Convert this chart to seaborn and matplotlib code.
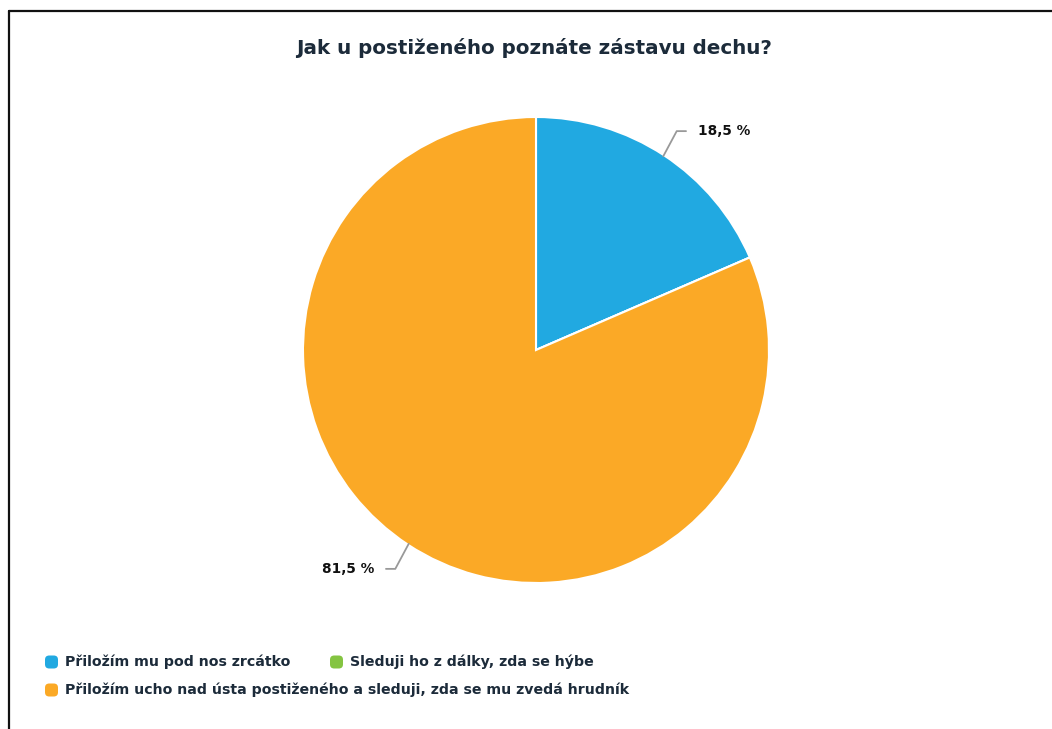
import numpy as np
import matplotlib
matplotlib.use("Agg")
import matplotlib.pyplot as plt
from matplotlib.lines import Line2D
from matplotlib.patches import FancyBboxPatch
import seaborn as sns

# Survey answers and their shares (percent)
categories = [
    "Přiložím mu pod nos zrcátko",
    "Sleduji ho z dálky, zda se hýbe",
    "Přiložím ucho nad ústa postiženého a sleduji, zda se mu zvedá hrudník",
]
shares = [18.5, 0.0, 81.5]
share_labels = ["18,5 %", "", "81,5 %"]
colors = ["#21A9E1", "#84C441", "#FBA926"]
title = "Jak u postiženého poznáte zástavu dechu?"

sns.set_theme(style="white")
plt.rcParams["font.family"] = ["DejaVu Sans"]

W, H = 1052, 729
fig = plt.figure(figsize=(W / 100, H / 100), dpi=100)
fig.patch.set_facecolor("white")

def fx(px):
    return px / W

def fy(py):
    return 1 - py / H

# Pie axes: centre (536, 350) px, radius 233 px
cx, cy, r = 536, 350, 233
ax = fig.add_axes([fx(cx - r), fy(cy + r), 2 * r / W, 2 * r / H])
wedges, _ = ax.pie(
    shares,
    colors=colors,
    startangle=90,
    counterclock=False,
    radius=1.0,
    wedgeprops=dict(edgecolor="white", linewidth=1.5),
)
ax.set_xlim(-1, 1)
ax.set_ylim(-1, 1)
ax.set_aspect("equal")
ax.axis("off")

# Value labels with bent leader lines
for w, lab in zip(wedges, share_labels):
    if not lab:
        continue
    mid = np.deg2rad((w.theta1 + w.theta2) / 2)
    x0, y0 = np.cos(mid), np.sin(mid)
    x1, y1 = 1.1 * x0, 1.1 * y0 + 0.02 * np.sign(y0)
    side = np.sign(x0)
    x2 = x1 + 0.04 * side
    ax.plot([x0 * 0.995, x1, x2], [y0 * 0.995, y1, y1], color="#999999",
            lw=1.3, clip_on=False, solid_capstyle="round")
    ax.text(x2 + 0.05 * side, y1, lab, ha="left" if side > 0 else "right",
            va="center", fontsize=9.8, fontweight="bold", color="#111111")

# Title
fig.text(fx(534), fy(48), title, ha="center", va="center",
         fontsize=14.3, fontweight="bold", color="#1C2B3A")

# Legend in flowing rows
legend_pos = [(45, 662), (330, 662), (45, 690)]
for (lx, ly), c, lab in zip(legend_pos, colors, categories):
    s = 13
    box = FancyBboxPatch((fx(lx), fy(ly + s / 2)), s / W, s / H,
                         boxstyle="round,pad=0,rounding_size=0.004",
                         transform=fig.transFigure, facecolor=c,
                         edgecolor="none", mutation_aspect=W / H)
    fig.add_artist(box)
    fig.text(fx(lx + s + 7), fy(ly), lab, ha="left", va="center",
             fontsize=10.2, fontweight="bold", color="#1C2B3A")

# Frame lines along the left and top edges
fig.add_artist(Line2D([fx(9), fx(9)], [0, fy(10.5)], transform=fig.transFigure,
                      color="#111111", lw=1.6))
fig.add_artist(Line2D([fx(9), 1], [fy(10.5), fy(10.5)], transform=fig.transFigure,
                      color="#111111", lw=1.6))

fig.savefig("out.png", dpi=100, facecolor="white")
